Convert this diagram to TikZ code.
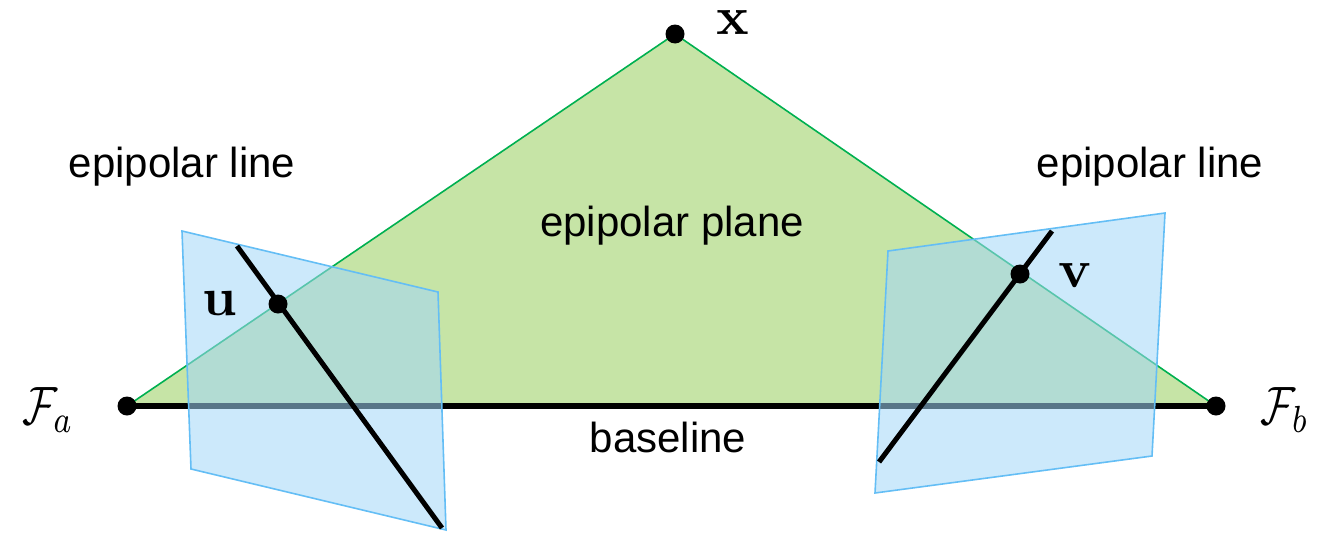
\documentclass[tikz,border=0pt]{standalone}
\usepackage{graphicx}
\usepackage{amsmath}
\usepackage[no-math]{fontspec}
\setmainfont{Liberation Sans}
\definecolor{planegreen}{RGB}{198,228,166}
\definecolor{edgegreen}{RGB}{0,176,80}
\definecolor{imgblue}{RGB}{162,215,248}
\definecolor{imgedge}{RGB}{100,190,245}
\newcommand{\bigsym}[1]{\scalebox{5.4}{#1}}
\newcommand{\camsym}[1]{\scalebox{4.3}[5.4]{#1}}
\tikzset{
  lbl/.style={font=\fontsize{42}{48}\selectfont, inner sep=0pt},
  mlbl/.style={inner sep=0pt},
  dot/.style={circle, fill=black, inner sep=0pt, minimum size=19pt},
  imageplane/.style={draw=imgedge, line width=1.6pt, fill=imgblue, fill opacity=0.55},
  eline/.style={line width=5pt, black},
}
\begin{document}
\begin{tikzpicture}[x=1pt, y=-1pt]
\useasboundingbox (0,0) rectangle (1322,533);

% camera centres and the scene point
\coordinate (Fa) at (127,406);
\coordinate (Fb) at (1216,406);
\coordinate (X) at (675,34);

% epipolar plane
\fill[planegreen] (Fa) -- (X) -- (Fb) -- cycle;
\draw[edgegreen, line width=1.6pt] (Fa) -- (X) -- (Fb);

% baseline
\draw[line width=6.5pt] (Fa) -- (Fb);

% image planes
\draw[imageplane] (182,231) -- (438,292) -- (446,530) -- (191,469) -- cycle;
\draw[imageplane] (888,251) -- (1165,213) -- (1152,456) -- (875,493) -- cycle;

% epipolar lines
\coordinate (la) at (237,246);
\coordinate (lb) at (442,528);
\coordinate (ra) at (879,462);
\coordinate (rb) at (1052,231);
\draw[eline] (la) -- (lb);
\draw[eline] (ra) -- (rb);

% points
\node[dot] (fa) at (Fa) {};
\node[dot] (fb) at (Fb) {};
\node[dot] (x) at (X) {};
\node[dot] (u) at (278,304) {};
\node[dot] (v) at (1020,274) {};

% labels
\node[mlbl] (fal) at (48,410) {\camsym{$\mathcal{F}_a$}};
\node[mlbl] (fbl) at (1285,410) {\camsym{$\mathcal{F}_b$}};
\node[mlbl] (xl) at (733,22) {\bigsym{$\mathbf{x}$}};
\node[mlbl] (ul) at (220,303) {\bigsym{$\mathbf{u}$}};
\node[mlbl] (vl) at (1075,275) {\bigsym{$\mathbf{v}$}};
\node[lbl] (epl) at (182,167) {epipolar line};
\node[lbl] (epr) at (1150,167) {epipolar line};
\node[lbl] (epp) at (672,226) {epipolar plane};
\node[lbl] (base) at (668,437) {baseline};
\end{tikzpicture}
\end{document}
